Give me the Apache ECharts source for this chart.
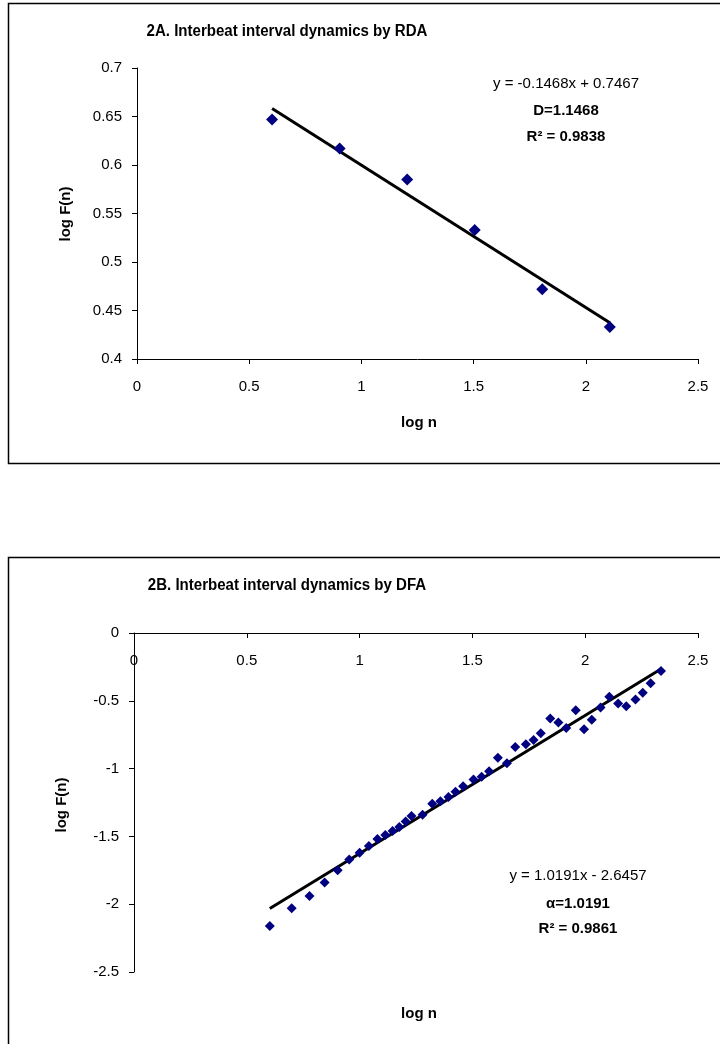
<!DOCTYPE html>
<html>
<head>
<meta charset="utf-8">
<script src="https://cdn.jsdelivr.net/npm/echarts@6/dist/echarts.min.js"></script>
<style>
  html, body { margin: 0; padding: 0; background: #fff; }
  #main { width: 720px; height: 1044px; }
</style>
</head>
<body>
<div id="main"></div>
<script>
// chart 2A - RDA
var rdaLogN = [0.602, 0.903, 1.204, 1.505, 1.806, 2.107];
var rdaLogF = [0.647, 0.617, 0.585, 0.533, 0.472, 0.433];
var rdaFit = [-0.1468, 0.7467]; // slope, intercept

// chart 2B - DFA
var dfaLogN = [0.602, 0.699, 0.778, 0.845, 0.903, 0.954, 1.000, 1.041, 1.079, 1.114,
               1.146, 1.176, 1.204, 1.230, 1.279, 1.322, 1.358, 1.394, 1.425, 1.459,
               1.505, 1.541, 1.574, 1.613, 1.653, 1.690, 1.737, 1.771, 1.803, 1.845,
               1.881, 1.916, 1.958, 1.995, 2.029, 2.068, 2.107, 2.146, 2.182, 2.223,
               2.255, 2.290, 2.336];
var dfaLogF = [-2.16, -2.03, -1.94, -1.84, -1.75, -1.67, -1.62, -1.57, -1.52, -1.49,
               -1.46, -1.43, -1.39, -1.35, -1.34, -1.26, -1.24, -1.21, -1.17, -1.13,
               -1.08, -1.06, -1.02, -0.92, -0.96, -0.84, -0.82, -0.79, -0.74, -0.63,
               -0.66, -0.70, -0.57, -0.71, -0.64, -0.55, -0.47, -0.52, -0.54, -0.49,
               -0.44, -0.37, -0.28];
var dfaFit = [1.0191, -2.6457];

var font = 'Liberation Sans, Arial, sans-serif';

function pairs(xs, ys) {
    var out = [];
    for (var i = 0; i < xs.length; i++) out.push([xs[i], ys[i]]);
    return out;
}
function fitLine(xs, fit) {
    var x0 = xs[0], x1 = xs[xs.length - 1];
    return [[x0, fit[0] * x0 + fit[1]], [x1, fit[0] * x1 + fit[1]]];
}

var axisLine = { lineStyle: { color: '#000', width: 1 } };
var tick = { show: true, length: 5, lineStyle: { color: '#000' } };
var label = { color: '#000', fontSize: 15, fontFamily: font };

var myChart = echarts.init(document.getElementById('main'));
var option = {
    backgroundColor: '#fff',
    animation: false,
    grid: [
        { left: 137, right: 22, top: 68, bottom: 685 },
        { left: 134, right: 22, top: 633, bottom: 72 }
    ],
    xAxis: [
        {
            gridIndex: 0, type: 'value', min: 0, max: 2.5, interval: 0.5,
            axisLine: axisLine, axisTick: tick, splitLine: { show: false },
            axisLabel: Object.assign({ margin: 20 }, label)
        },
        {
            // axis sits on y = 0, which is the top edge of this grid
            gridIndex: 1, type: 'value', min: 0, max: 2.5, interval: 0.5, position: 'top',
            axisLine: Object.assign({ onZero: false }, axisLine),
            axisTick: { show: true, inside: true, length: 5, lineStyle: { color: '#000' } },
            splitLine: { show: false },
            axisLabel: Object.assign({ inside: true, margin: 28, verticalAlign: 'middle' }, label)
        }
    ],
    yAxis: [
        {
            gridIndex: 0, type: 'value', min: 0.4, max: 0.7, interval: 0.05,
            axisLine: { show: true, lineStyle: { color: '#000', width: 1 } }, axisTick: tick,
            splitLine: { show: false },
            axisLabel: Object.assign({ margin: 15 }, label)
        },
        {
            gridIndex: 1, type: 'value', min: -2.5, max: 0, interval: 0.5,
            axisLine: { show: true, onZero: false, lineStyle: { color: '#000', width: 1 } }, axisTick: tick,
            splitLine: { show: false },
            axisLabel: Object.assign({ margin: 15 }, label)
        }
    ],
    series: [
        {
            type: 'line', xAxisIndex: 0, yAxisIndex: 0,
            data: fitLine(rdaLogN, rdaFit), symbol: 'none',
            lineStyle: { color: '#000', width: 3 }, z: 2
        },
        {
            type: 'scatter', xAxisIndex: 0, yAxisIndex: 0,
            data: pairs(rdaLogN, rdaLogF), symbol: 'diamond', symbolSize: 12,
            itemStyle: { color: '#000080', opacity: 1 }, z: 3
        },
        {
            type: 'line', xAxisIndex: 1, yAxisIndex: 1,
            data: fitLine(dfaLogN, dfaFit), symbol: 'none',
            lineStyle: { color: '#000', width: 3 }, z: 2
        },
        {
            type: 'scatter', xAxisIndex: 1, yAxisIndex: 1,
            data: pairs(dfaLogN, dfaLogF), symbol: 'diamond', symbolSize: 10,
            itemStyle: { color: '#000080', opacity: 1 }, z: 3
        }
    ],
    graphic: [
        { type: 'rect', shape: { x: 8.5, y: 3.5, width: 800, height: 460 },
          style: { fill: 'none', stroke: '#000', lineWidth: 1.5 }, z: 0 },
        { type: 'rect', shape: { x: 8.5, y: 557.5, width: 800, height: 600 },
          style: { fill: 'none', stroke: '#000', lineWidth: 1.5 }, z: 0 },

        { type: 'text', x: 287, y: 32, scaleX: 0.94, style: { text: '2A. Interbeat interval dynamics by RDA',
          font: 'bold 16px ' + font, fill: '#000', align: 'center', verticalAlign: 'middle' } },
        { type: 'text', x: 287, y: 586, scaleX: 0.94, style: { text: '2B. Interbeat interval dynamics by DFA',
          font: 'bold 16px ' + font, fill: '#000', align: 'center', verticalAlign: 'middle' } },

        { type: 'text', x: 66, y: 214, rotation: Math.PI / 2, style: { text: 'log F(n)',
          font: 'bold 15px ' + font, fill: '#000', align: 'center', verticalAlign: 'middle' } },
        { type: 'text', x: 62, y: 805, rotation: Math.PI / 2, style: { text: 'log F(n)',
          font: 'bold 15px ' + font, fill: '#000', align: 'center', verticalAlign: 'middle' } },
        { type: 'text', x: 419, y: 423, style: { text: 'log n',
          font: 'bold 15px ' + font, fill: '#000', align: 'center', verticalAlign: 'middle' } },
        { type: 'text', x: 419, y: 1014, style: { text: 'log n',
          font: 'bold 15px ' + font, fill: '#000', align: 'center', verticalAlign: 'middle' } },

        { type: 'text', x: 566, y: 84, style: { text: 'y = -0.1468x + 0.7467',
          font: '15px ' + font, fill: '#000', align: 'center', verticalAlign: 'middle' } },
        { type: 'text', x: 566, y: 111, style: { text: 'D=1.1468',
          font: 'bold 15px ' + font, fill: '#000', align: 'center', verticalAlign: 'middle' } },
        { type: 'text', x: 566, y: 137, style: { text: 'R\u00B2 = 0.9838',
          font: 'bold 15px ' + font, fill: '#000', align: 'center', verticalAlign: 'middle' } },

        { type: 'text', x: 578, y: 876, style: { text: 'y = 1.0191x - 2.6457',
          font: '15px ' + font, fill: '#000', align: 'center', verticalAlign: 'middle' } },
        { type: 'text', x: 578, y: 904, style: { text: '\u03B1=1.0191',
          font: 'bold 15px ' + font, fill: '#000', align: 'center', verticalAlign: 'middle' } },
        { type: 'text', x: 578, y: 929, style: { text: 'R\u00B2 = 0.9861',
          font: 'bold 15px ' + font, fill: '#000', align: 'center', verticalAlign: 'middle' } }
    ]
};
myChart.setOption(option);
</script>
</body>
</html>
